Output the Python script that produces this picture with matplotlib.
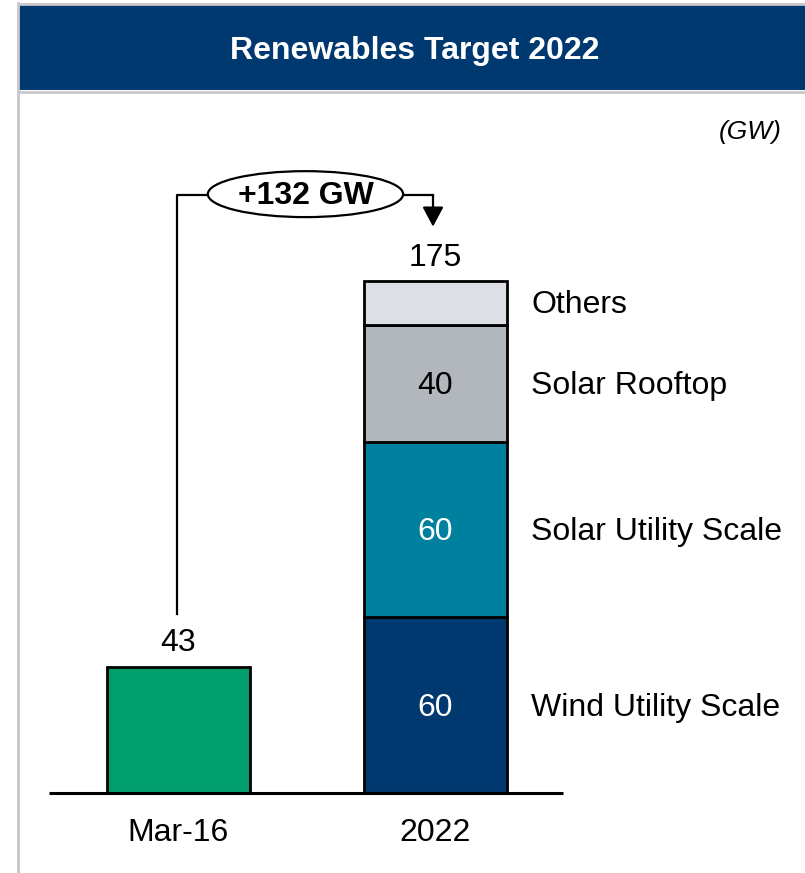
import matplotlib
matplotlib.use('Agg')
import matplotlib.pyplot as plt
from matplotlib.patches import Rectangle, Ellipse

plt.rcParams['font.family'] = ['Liberation Sans', 'DejaVu Sans']

# data
categories = ['Mar-16', '2022']
base_value = 43
segment_names = ['Wind Utility Scale', 'Solar Utility Scale', 'Solar Rooftop', 'Others']
segment_values = [60, 60, 40, 15]
segment_labels = ['60', '60', '40', '']
total_2022 = sum(segment_values)
delta_label = '+132 GW'

navy = '#003870'
seg_colors = [navy, '#00809F', '#B2B6BD', '#DCE0E4']
seg_text_colors = ['white', 'white', 'black', 'black']
green = '#009E6D'
font_size = 23
nudge = -0.8  # small downward shift for centred text

fig = plt.figure(figsize=(8.05, 8.73), dpi=100)
W, H = 805.0, 873.0

# frame + title band (figure pixels)
fig.add_artist(Rectangle((19 / W, 1 - 90 / H), 1 - 19 / W, 86 / H,
                         transform=fig.transFigure, color=navy, lw=0))
fig.add_artist(plt.Line2D([18 / W, 1], [1 - 3.5 / H, 1 - 3.5 / H],
                          transform=fig.transFigure, color='#C8C8C8', lw=2))
fig.add_artist(plt.Line2D([18 / W, 1], [1 - 91.5 / H, 1 - 91.5 / H],
                          transform=fig.transFigure, color='#C8C8C8', lw=2))
fig.add_artist(plt.Line2D([18 / W, 18 / W], [0, 1 - 3 / H],
                          transform=fig.transFigure, color='#C8C8C8', lw=2))
fig.text(415 / W, 1 - 51 / H, 'Renewables Target 2022', color='white',
         fontsize=23, fontweight='bold', ha='center', va='center')
fig.text(782 / W, 1 - 132 / H, '(GW)', fontsize=19, fontstyle='italic',
         ha='right', va='center')

# plotting area: baseline at y px 793, bar centres at 178 and 435
px_per_unit = 2.927
x_step = 257.0
left_px, bottom_px, top_px = 49.0, 793.0, 100.0
ax = fig.add_axes([left_px / W, 1 - bottom_px / H, 1 - left_px / W,
                   (bottom_px - top_px) / H])
ax.set_xlim(-(178 - left_px) / x_step, 1 + (W - 435) / x_step)
ax.set_ylim(0, (bottom_px - top_px) / px_per_unit)
ax.axis('off')

bar_w = 143 / x_step
ax.bar(0, base_value, width=bar_w, color=green, edgecolor='black', lw=2, zorder=2)
bottom = 0
for v, c, lab, tc, name in zip(segment_values, seg_colors, segment_labels,
                               seg_text_colors, segment_names):
    ax.bar(1, v, bottom=bottom, width=bar_w, color=c, edgecolor='black',
           lw=2, zorder=2)
    if lab:
        ax.text(1, bottom + v / 2 + nudge, lab, color=tc, fontsize=font_size,
                ha='center', va='center', zorder=3)
    ax.text(1 + 96 / x_step, bottom + v / 2 + nudge, name, fontsize=font_size,
            ha='left', va='center')
    bottom += v

# baseline
ax.plot([-(178 - left_px) / x_step, 1 + 128 / x_step], [0, 0], color='black',
        lw=2.2, clip_on=False, zorder=4, solid_capstyle='butt')

# totals
ax.text(0, base_value + 8.9 + nudge, str(base_value), fontsize=font_size,
        ha='center', va='center')
ax.text(1, total_2022 + 8.5 + nudge, str(total_2022), fontsize=font_size,
        ha='center', va='center')

# category labels
for i, cat in enumerate(categories):
    ax.text(i, -13 + nudge, cat, fontsize=font_size, ha='center', va='center',
            clip_on=False)

# connector with delta bubble
y_top = total_2022 + 29.3
x_l = -1 / x_step
x_r = 1 - 2 / x_step
ax.plot([x_l, x_l, x_r], [base_value + 61.2 - 43, y_top, y_top],
        color='black', lw=1.6, zorder=1)
ax.annotate('', xy=(x_r, total_2022 + 18.5), xytext=(x_r, y_top),
            arrowprops=dict(arrowstyle='-|>,head_length=0.6,head_width=0.32',
                            mutation_scale=20, color='black', lw=1.6,
                            shrinkA=0, shrinkB=0))
ax.add_patch(Ellipse((0.496, y_top + 0.3), 0.76, 15.7, facecolor='white',
                     edgecolor='black', lw=1.6, zorder=5))
ax.text(0.496, y_top + 0.5 + nudge, delta_label, fontsize=font_size,
        fontweight='bold', ha='center', va='center', zorder=6)

fig.savefig('out.png', dpi=100)
